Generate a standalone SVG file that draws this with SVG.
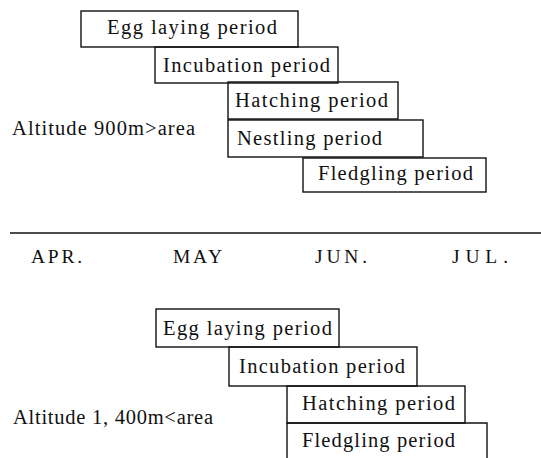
<svg xmlns="http://www.w3.org/2000/svg" width="541" height="458" viewBox="0 0 541 458">
<style>
.b{fill:none;stroke:#111;stroke-width:1.4}
.t{font-family:"Liberation Serif","Times New Roman",serif;font-size:20.5px;fill:#111}
.m{font-family:"Liberation Serif","Times New Roman",serif;font-size:19.5px;fill:#111}
</style>
<rect width="541" height="458" fill="#fff"/>
<g id="top-chart">
<text class="t" x="12" y="135" textLength="183" lengthAdjust="spacing">Altitude 900m&gt;area</text>
<g id="t-egg"><rect class="b" x="81" y="11" width="217" height="36"/><text class="t" x="107" y="34" textLength="170" lengthAdjust="spacing">Egg laying period</text></g>
<g id="t-incubation"><rect class="b" x="155" y="47" width="183" height="36"/><text class="t" x="163" y="72" textLength="167" lengthAdjust="spacing">Incubation period</text></g>
<g id="t-hatching"><rect class="b" x="228" y="82" width="170" height="37"/><text class="t" x="235" y="107" textLength="153" lengthAdjust="spacing">Hatching period</text></g>
<g id="t-nestling"><rect class="b" x="228" y="120" width="195" height="37"/><text class="t" x="237" y="145" textLength="145" lengthAdjust="spacing">Nestling period</text></g>
<g id="t-fledgling"><rect class="b" x="303" y="158" width="183" height="34"/><text class="t" x="318" y="180" textLength="155" lengthAdjust="spacing">Fledgling period</text></g>
</g>
<g id="connectors">
<line class="b" x1="10" y1="233" x2="541" y2="233"/>
</g>
<g id="axis-labels">
<text class="m" x="31" y="263" textLength="51" lengthAdjust="spacing">APR.</text>
<text class="m" x="173" y="263" textLength="49" lengthAdjust="spacing">MAY</text>
<text class="m" x="315" y="263" textLength="52" lengthAdjust="spacing">JUN.</text>
<text class="m" x="452" y="263" textLength="56" lengthAdjust="spacing">JUL.</text>
</g>
<g id="bottom-chart">
<text class="t" x="13" y="424" textLength="200" lengthAdjust="spacing">Altitude 1, 400m&lt;area</text>
<g id="b-egg"><rect class="b" x="156" y="309" width="183" height="38"/><text class="t" x="163" y="335" textLength="169" lengthAdjust="spacing">Egg laying period</text></g>
<g id="b-incubation"><rect class="b" x="229" y="347" width="188" height="39"/><text class="t" x="239" y="373" textLength="166" lengthAdjust="spacing">Incubation period</text></g>
<g id="b-hatching"><rect class="b" x="287" y="386" width="178" height="37"/><text class="t" x="302" y="410" textLength="153" lengthAdjust="spacing">Hatching period</text></g>
<g id="b-fledgling"><path class="b" d="M287,460 V423 H487 V460"/><text class="t" x="302" y="447" textLength="153" lengthAdjust="spacing">Fledgling period</text></g>
</g>
</svg>
